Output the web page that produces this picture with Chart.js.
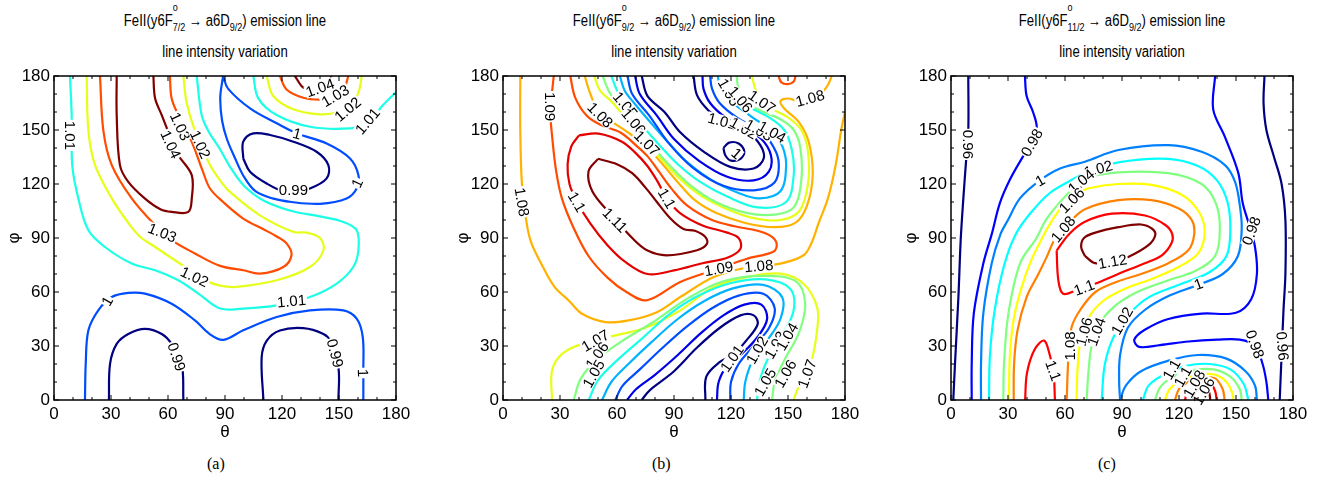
<!DOCTYPE html>
<html>
<head>
<meta charset="utf-8">
<script src="https://cdn.jsdelivr.net/npm/chart.js@4.4.1/dist/chart.umd.min.js"></script>
<style>
  body { margin: 0; background: #fff; width: 1318px; height: 482px; position: relative; overflow: hidden;
         font-family: "Liberation Sans Narrow", "Liberation Sans", Arial, sans-serif; }
  canvas { position: absolute; top: 60px; }
  .title { position: absolute; width: 420px; text-align: center; font-size: 16px; color: #000; transform: scaleX(0.82); transform-origin: 50% 50%; }
  .t1 { top: 10px; line-height: 22px; }
  .t2 { top: 42px; line-height: 20px; }
  .ss { position: relative; display: inline-block; }
  .ss .up { position: absolute; left: 0; top: -8px; font-size: 11px; line-height: 11px; }
  .dn { display: inline-block; font-size: 11px; line-height: 11px; transform: translateY(5px); }
  .cap { position: absolute; top: 455px; font-family: "Liberation Serif", "Times New Roman", serif; font-size: 16px; }
</style>
</head>
<body>
<div class="title t1" style="left:15px">FeII(y6F<span class="ss"><span class="up">o</span><span class="dn">7/2</span></span> &rarr; a6D<span class="dn">9/2</span>) emission line</div>
<div class="title t2" style="left:15px">line intensity variation</div>
<div class="title t1" style="left:464px">FeII(y6F<span class="ss"><span class="up">o</span><span class="dn">9/2</span></span> &rarr; a6D<span class="dn">9/2</span>) emission line</div>
<div class="title t2" style="left:464px">line intensity variation</div>
<div class="title t1" style="left:912px">FeII(y6F<span class="ss"><span class="up">o</span><span class="dn">11/2</span></span> &rarr; a6D<span class="dn">9/2</span>) emission line</div>
<div class="title t2" style="left:912px">line intensity variation</div>
<div class="cap" style="left:207px">(a)</div>
<div class="cap" style="left:652px">(b)</div>
<div class="cap" style="left:1098px">(c)</div>

<canvas id="chartA" width="416" height="385" style="left:0px"></canvas>
<canvas id="chartB" width="416" height="385" style="left:449px"></canvas>
<canvas id="chartC" width="416" height="385" style="left:897px"></canvas>

<script>
// axis ticks (degrees)
const thetaTicks = [0, 30, 60, 90, 120, 150, 180];
const phiTicks = [0, 30, 60, 90, 120, 150, 180];

// ---- panel (a): contour paths as [theta, phi] ----
const a099 = [
  [[99.6,134.2],[99.6,143.5],[104.9,148.1],[113.7,147.2],[126,143.5],[138.2,137.9],[144.4,130.5],[143.5,123.1],[134.7,117.5],[127.7,116.6],[120.7,116],[111.9,120.3],[103.2,126.8],[99.6,134.2]],
  [[28.9,0],[29.5,20.1],[33,31.2],[39.1,36.7],[47.9,39.5],[56.7,36.7],[61.9,31.2],[67.2,20.1],[68.1,0]],
  [[110.2,0],[109.3,23.8],[112,33],[118.9,38.6],[131.2,39.9],[141.8,36.7],[145.3,33],[149.7,18.2],[149.7,0]]
];
const a100 = [
  [[89,180],[87.5,168],[88.5,155],[91,145],[95,135],[100,124],[106,116],[115,112],[125,110],[140,109],[154,112],[159.3,117.5],[160.2,125],[155.8,134.2],[143.5,142.5],[128,148],[117.2,153.7],[103.2,162],[91.6,173],[89,180]],
  [[16.3,0],[16.7,20.1],[18.1,38.7],[23.3,49.8],[30.4,57.2],[39.1,59.5],[47.9,59.1],[61.9,53.5],[74.2,44.2],[82.1,36.5],[89.1,33.4],[99.6,38.7],[117.2,46.1],[134.7,49.8],[152.3,49.8],[159.3,45.2],[162.5,35],[162.8,16.4],[162.8,0]]
];
const a101 = [
  [[8.4,180],[9.3,158.3],[9.6,130.5],[12.8,112],[18.1,94.3],[26.8,85],[40.9,75.8],[53.2,72.1],[65.4,66.5],[76,59.1],[87.4,50.8],[99.6,50.8],[117.2,52.6],[134.7,57.2],[148.8,64.7],[157.5,73.9],[160.2,83.2],[159.3,94.3],[152,99],[140,102],[125,105],[110,111],[100,119],[93,129],[87,140],[81.2,149.5],[77.7,158.3],[75.1,180]],
  [[104.9,180],[107.5,167.6],[117.2,158.3],[134.7,151.8],[155.8,150.9],[164.6,153.7],[173.3,164],[180,171]]
];
const a102 = [
  [[17.2,180],[18.1,149.5],[21.6,130.5],[30.4,112],[38,100],[45,91],[53.2,85],[69,73.9],[79.5,66.5],[87.4,63.5],[96.1,62.8],[117.2,66.5],[134.7,73.9],[141.8,83.2],[140,90],[133,93],[126,93.4],[108.4,102.6],[92.6,115.6],[87.4,122],[82.1,130.5],[74.2,149.5],[69.8,165.1],[68.1,180]],
  [[111.9,180],[115.4,168.9],[125.9,161.5],[140,158.7],[150,160],[155.8,163.3],[160.2,170.8],[162,180]]
];
const a103 = [
  [[24.2,180],[26,149.5],[30.4,130.5],[40.9,112],[53.2,97.1],[61.9,88.8],[74.2,81.4],[87.4,74.5],[99.6,72.1],[108.4,70.2],[120.7,73.9],[125,80.4],[122.5,86.9],[117,91],[110,95],[99.6,100.8],[89,110],[82.1,117.5],[78,128],[72.5,143.5],[65.4,158.3],[61.9,167.6],[61,180]],
  [[118.9,180],[122.4,172.5],[131.2,167.9],[140,166.9],[148,168],[152.3,171.6],[154.9,180]]
];
const a104 = [
  [[33,180],[33,158.3],[34.7,130.5],[39.1,121.2],[47.9,111.9],[56,106],[61.9,104.5],[70.7,104.5],[72.5,111.9],[72.5,124.9],[65.4,136],[61.9,144.4],[56.7,158.3],[53.2,167.6],[52.3,180]],
  [[126.8,180],[131.2,173.5],[137,172],[143,173.5],[145.5,177],[146,180]]
];
const labelsA = [
  ['1.01', 8.6, 147, 90], ['1.04', 61.5, 142, 65], ['1.03', 66.5, 152, 65], ['1.02', 77, 142, 65],
  ['1.03', 57, 93, 22], ['1.02', 74, 68.5, 25], ['1', 28, 55, -60], ['0.99', 64.6, 24, 72],
  ['1.01', 125, 55, -5], ['0.99', 148, 26, 75], ['1', 162.6, 15, 88],
  ['1.04', 140, 173.5, -20], ['1.03', 148, 169, -30], ['1.02', 154.5, 161.5, -40], ['1.01', 165, 155, -50],
  ['1', 128, 148, 15], ['0.99', 126, 116.5, 0], ['1', 159.5, 120.5, -65]
];

// ---- panel (b) ----
const b100 = [[[116,140],[119,143],[124,142.5],[127,138],[125,134],[120,133],[117,136],[116,140]]];
const b101 = [
  [[73,180],[76,169],[85,160],[93,149],[105.6,138],[119.6,129.5],[131.9,128.6],[137.2,134.2],[135.4,141.6],[128.4,149],[115.3,155],[108,161],[102.1,169.4],[100.3,180]],
  [[73,0],[76,4],[79,7],[90,16],[102,29],[114,40],[125,47],[132,47],[134,42],[128,33],[121,25],[114,21],[107,13],[106.5,0]]
];
const b102 = [
  [[69.5,180],[72,170],[81,158],[90,145],[103,133],[118,124],[132,122],[140,127],[141,136],[136,145],[126.7,151],[117,157],[109,165],[105.5,173],[105,180]],
  [[65.3,0],[70,6],[80,14],[92,25],[104,37],[116,47],[127,53],[136,53],[139,45],[134,35],[126,26],[118,19],[113.5,10],[112.6,0]]
];
const b103 = [
  [[65.5,180],[68,170],[77,158],[87,143],[100,129],[116,119],[132,116.5],[143,121],[145,133],[141,143],[134.6,150],[123,157],[114,165],[110,173],[109,180]],
  [[59.1,0],[63,8],[72,17],[84,29],[97,41],[110,51],[124,58],[137,59],[143,51],[140,40],[132,30],[124,20],[120,10],[119.6,0]]
];
const b104 = [
  [[61.5,180],[64,172],[69,165],[77,155],[87,143],[97,132],[110,122],[124,115],[135,112],[146,116],[149,130],[147,141],[141.6,149],[130,158],[120,166],[114.5,174],[113,180]],
  [[52.1,0],[57,10],[66,20],[78,32],[92,45],[106,55],[121,62],[137,64],[147,57],[146,45],[139,33],[131,21],[127.5,10],[126.7,0]]
];
const b105 = [
  [[57,180],[60,172],[64.4,164],[72,154],[82,142],[92,131],[104,121],[118,113],[134,107],[149,110],[153,125],[152,139],[148,150],[140,157],[129,163],[121,169],[118,174],[117,180]],
  [[45.1,0],[50,11],[60,22],[73,34],[88,48],[103,58],[120,65],[138,67],[151,62],[153,50],[147,36],[139,22],[135,10],[133.7,0]]
];
const b106 = [
  [[52.5,180],[56,171],[62,163],[68.8,154.6],[78,142],[88,130],[99,119],[112,110],[128,104],[143,103],[153,107],[157,122],[156.5,140],[153,150],[146,156],[135,161],[127,166],[124,172],[123,180]],
  [[37.2,0],[41,12],[50,23],[63,33],[80,44],[98,57],[116,66],[137,69],[154,66],[159,54],[156,38],[148,22],[143,10],[141.6,0]]
];
const b107 = [
  [[48,180],[51,172],[57,166],[65,156],[75.8,142.7],[84,133],[94,122],[105,113],[118,106],[132,101],[146,100],[156,105],[160.5,120],[160.5,138],[157,150],[150,157],[141,162],[136.3,165.7],[133,172],[131,180]],
  [[25.8,0],[25.8,16.4],[31.1,25.6],[41.6,31.2],[62.6,36.7],[76,40.5],[93.3,49.8],[110.9,62.8],[128.4,68.3],[146,70.2],[158.2,64.6],[165.3,51.6],[165.3,38.6],[161.8,20],[154.7,5.2],[153,0]]
];
const b108 = [
  [[9.1,180],[9.1,149.5],[10,119.6],[12.6,97.3],[15,87],[20,76],[27,63],[34.6,55.3],[41.6,47.9],[53.9,43.3],[66.1,44.2],[81,48.8],[93.3,57.2],[110.9,68.3],[128.4,73.6],[146,75.8],[158.2,80.4],[162.6,87.8],[166,98],[171,112],[175,130],[178,150],[180,160]],
  [[43,180],[46,170],[51.2,158.3],[58,154],[66,148.5],[76,140],[84,131],[92,121],[101,111],[112,104],[127,98.5],[143,96],[154,98.5],[160,108],[163,125],[161,143],[156,154],[148,162],[146,166],[150,167.5],[156,166],[161.6,167.7],[167,170],[171,175],[173,180]]
];
const b109 = [
  [[26.7,180],[25,160],[26,145],[28,127],[31,112],[37,96],[45,80],[55,68],[65,60],[75.8,55.4],[93.3,65.6],[113.5,73],[128.4,78.5],[142.5,82.5],[144,87],[141,91],[134,94],[122,96.5],[110,100],[97,108],[89,117],[82,127],[76,135.5],[70,141.5],[62,148.5],[51,153],[44,158],[38,168],[35.4,180]],
  [[145,180],[146.5,176.5],[150,175.5],[153,177],[154,180]]
];
const b110 = [
  [[40,147],[50.3,148],[62.6,143.5],[70,137],[76,130],[81,122],[86.3,112],[93,104],[105,97],[118,93],[124,90],[125,84],[118,79],[105,76],[90,72],[76,70],[64,77],[55,86],[46,98],[39,110],[35,120],[34,131],[36,141],[40,147]]
];
const b111 = [
  [[50,134],[60,131],[68,126],[75,118],[81,110],[88,101],[95,95],[101,94],[106.5,90.6],[107.4,86.9],[102.1,83.2],[86,80.4],[75.8,83.2],[68,90],[56,104],[47,116],[45,127],[50,134]]
];
const labelsB = [
  ['1.09', 25, 163, 90], ['1.08', 10, 110, 80], ['1.1', 38.9, 110, 60], ['1.11', 59, 100, 45],
  ['1.08', 51.2, 158.3, 45], ['1.05', 64.4, 164, 50], ['1.06', 68.8, 154.6, 50], ['1.07', 75.8, 142.7, 45],
  ['1.05', 119, 171, 60], ['1.06', 125, 167, 50], ['1.07', 136.3, 165.7, 35], ['1.08', 161.6, 167.7, -15],
  ['1.01', 115.3, 155, 15], ['1.02', 126.7, 151, 30], ['1.03', 134.6, 150, 30], ['1.04', 141.6, 149, 30],
  ['1', 123, 137, 40], ['1.1', 86.3, 112, 60], ['1.09', 113.5, 73, -10], ['1.08', 134.6, 74.5, -5],
  ['1.07', 48.6, 33, -30], ['1.06', 49.5, 24.8, -55], ['1.05', 47.7, 14.6, -60],
  ['1.01', 120.5, 23.1, -55], ['1.02', 133.7, 27.7, -60], ['1.03', 143.3, 30.5, -60], ['1.04', 149.5, 35.2, -60],
  ['1.05', 138, 9.9, -60], ['1.06', 148.6, 14.6, -60], ['1.07', 160, 14.6, -70]
];

// ---- panel (c) ----
const c096 = [
  [[9.1,180],[9.1,149.5],[7.9,132.4],[6.5,112],[5.1,88.8],[3.9,57.2],[2.1,20.1],[1.2,0]],
  [[165,180],[164.5,165],[166,150],[170,135],[174,120],[176,100],[176,70],[175,50],[174,25],[173,0]]
];
const c098 = [
  [[38.9,180],[39.8,168.9],[43.3,159.6],[45.1,151.3],[42.5,142.9],[38.1,135.6],[31.1,122.6],[25.8,109.6],[21.4,92],[17,75.8],[12,48],[10.9,20.1],[10.9,0]],
  [[139,180],[138,161.5],[144,146.6],[151.2,126.2],[153.5,109.6],[157,97],[160,85],[161,70],[158,56],[150,48.5],[132,48],[114.4,45],[102,39],[96.5,33.5],[99,29.5],[110,30.5],[125,32.5],[140,33.5],[152,33.5],[160,30],[164,20],[166,10],[167,0]]
];
const c100 = [
  [[15.8,0],[15.8,20],[17,48],[21.4,75.8],[26,92],[30,100],[36.3,112],[46.8,122],[57.4,128.6],[70.5,132.4],[88.1,138.9],[114.4,141.6],[131.9,137.9],[144.2,130.5],[149.5,121.2],[152,108.2],[153,95],[151,80],[143,70],[130.2,64],[115,58],[102,50],[93,40],[89,25],[88.5,10],[89,0]],
  [[89,0],[92,8],[100,16],[115,22],[130,25],[145,23],[155,16],[160,8],[161,0]]
];
const c102 = [
  [[20,0],[20.5,25],[23,50],[28,75],[34,92],[42,104],[52,115],[63,122],[70.5,126],[88,132],[114,134],[130,130],[140,122],[145.5,110],[147,95],[145,80],[136,71],[120,64],[104,57],[94,48],[86,36],[81,20],[79.3,0]],
  [[101,0],[104,8],[112,14],[124,19],[136,20],[147,17],[154,9],[156.5,0]]
];
const c104 = [
  [[27.5,0],[27.9,20.1],[30.2,48],[36.3,75.8],[45,90],[50.4,100.8],[59.1,112],[67.9,121.2],[70.5,123.5],[88.1,126.5],[114.4,126],[131.9,120],[139.5,109],[141.5,94.3],[139,80],[129,72],[113,66],[98,60],[86,52],[78,42],[74,30],[72.3,15],[71.4,0]],
  [[107.4,0],[110,7],[117,13],[127,16.5],[138,17],[147,13],[152,6],[153,0]]
];
const c106 = [
  [[30.5,0],[31,25],[33,45],[37,62],[42,77],[48,90],[54,101],[59.1,108.2],[66.1,114.5],[72,117.5],[88.1,120],[105.6,119.5],[121.4,114],[130.2,105],[133.5,94.3],[130.5,82],[120,74],[105,67],[92,62],[80,55],[72,45],[68,32],[66.5,15],[66.1,0]],
  [[112.6,0],[115,6],[121,11],[130,14],[139,14],[145,10],[148,4],[148.6,0]]
];
const c108 = [
  [[33,0],[33.2,20],[35,38.7],[39.8,57.2],[46,70],[50.4,79.5],[55,90],[62.6,99],[70.5,106],[88.1,111],[105.6,111],[119.6,106.5],[126.7,100],[128,92],[124.9,83.2],[114.4,76],[100,70],[88.1,66],[76,60],[68,50],[63.5,40.5],[61.8,23.8],[60.9,0]],
  [[117.9,0],[120,6],[125,10],[132,12.5],[139,12],[143,6],[144,0]]
];
const c110 = [
  [[55.6,83],[56.5,66.5],[59,59],[66,61],[75.8,64.6],[88,70],[102,76],[111,80.4],[116,86.9],[116.5,92],[113,97.1],[102.1,102.5],[84.6,103.5],[70.5,99],[62,92],[55.6,83]],
  [[39,0],[40,15],[44,28],[49,33],[52,25],[54,15],[54.7,0]],
  [[123.2,0],[124.9,7],[130.2,10.7],[136,10],[139,5],[139.8,0]]
];
const c112 = [
  [[70.5,80],[75.8,76],[85,77],[93.3,79.5],[103.9,86],[107.5,91.5],[106,95],[100,97.5],[88.1,96],[76,93],[70,90],[68.5,85],[70.5,80]],
  [[127,0],[128.5,4],[132,6.5],[135.5,5],[136.5,0]]
];
const labelsC = [
  ['0.96', 9, 142, 90], ['0.98', 42.5, 143, -60], ['1', 46.8, 122, -30], ['1.02', 77.5, 128.5, -15],
  ['1.04', 68.5, 121.5, -40], ['1.06', 63.5, 111, -45], ['1.08', 59, 95, -50],
  ['1.1', 70, 62.5, -20], ['1.12', 85, 77, -10], ['1.1', 53.9, 16.4, 70],
  ['1.08', 62.3, 30, -90], ['1.06', 70, 38, -75], ['1.04', 76.5, 38, -70], ['1.02', 90, 44, -60],
  ['1', 130.2, 64.5, -20], ['0.98', 158, 94, -70], ['0.98', 160, 31, 70], ['0.96', 174.5, 30, 85],
  ['1.1', 116, 17, -60], ['1.1', 122, 13, -60], ['1.08', 128, 9, -60], ['1.06', 133, 5, -60]
];

// jet colour map
function jet(t) {
  t = Math.min(1, Math.max(0, t));
  const c = v => Math.round(255 * Math.min(1, Math.max(0, 1.5 - Math.abs(v))));
  return 'rgb(' + c(4 * t - 3) + ',' + c(4 * t - 2) + ',' + c(4 * t - 1) + ')';
}

function buildSets(groups, lo, hi) {
  const sets = [];
  groups.forEach(([level, paths]) => {
    paths.forEach(p => {
      sets.push({
        data: p.map(([x, y]) => ({ x: x, y: y })),
        showLine: true,
        borderColor: jet((level - lo) / (hi - lo)),
        borderWidth: 2.2,
        pointRadius: 0,
        tension: 0.35,
        fill: false
      });
    });
  });
  return sets;
}

const FONT = '"Liberation Sans Narrow", "Liberation Sans", Arial, sans-serif';

const frame = {
  id: 'frame',
  afterDraw(chart) {
    const { ctx, chartArea: a, scales: { x, y } } = chart;
    ctx.save();
    ctx.strokeStyle = '#000';
    ctx.lineWidth = 1.5;
    ctx.strokeRect(a.left, a.top, a.right - a.left, a.bottom - a.top);
    ctx.lineWidth = 1;
    for (let v = 0; v <= 180; v += 10) {
      const len = v % 30 === 0 ? 5 : 3;
      const px = x.getPixelForValue(v), py = y.getPixelForValue(v);
      ctx.beginPath();
      ctx.moveTo(px, a.bottom); ctx.lineTo(px, a.bottom - len);
      ctx.moveTo(px, a.top); ctx.lineTo(px, a.top + len);
      ctx.moveTo(a.left, py); ctx.lineTo(a.left + len, py);
      ctx.moveTo(a.right, py); ctx.lineTo(a.right - len, py);
      ctx.stroke();
    }
    ctx.restore();
  }
};

const inlineLabels = {
  id: 'inlineLabels',
  afterDatasetsDraw(chart, args, opts) {
    const { ctx, scales: { x, y } } = chart;
    ctx.save();
    ctx.font = '15px ' + FONT;
    ctx.textAlign = 'center';
    ctx.textBaseline = 'middle';
    opts.items.forEach(([txt, tx, ty, rot]) => {
      const px = x.getPixelForValue(tx), py = y.getPixelForValue(ty);
      const w = ctx.measureText(txt).width;
      ctx.save();
      ctx.translate(px, py);
      ctx.rotate(rot * Math.PI / 180);
      ctx.fillStyle = '#fff';
      ctx.fillRect(-w / 2 - 1, -6, w + 2, 12);
      ctx.fillStyle = '#000';
      ctx.fillText(txt, 0, 1);
      ctx.restore();
    });
    ctx.restore();
  }
};

function makeChart(id, groups, lo, hi, labels) {
  const ctx = document.getElementById(id).getContext('2d');
  return new Chart(ctx, {
    type: 'scatter',
    data: { datasets: buildSets(groups, lo, hi) },
    options: {
      responsive: false,
      animation: false,
      devicePixelRatio: 1,
      layout: { padding: { top: 16, right: 20, left: 0, bottom: 0 } },
      plugins: {
        legend: { display: false },
        tooltip: { enabled: false },
        inlineLabels: { items: labels }
      },
      scales: {
        x: {
          type: 'linear', min: 0, max: 180,
          afterBuildTicks: s => { s.ticks = thetaTicks.map(v => ({ value: v })); },
          afterFit: s => { s.height = 45; },
          grid: { display: false, drawTicks: false },
          border: { display: false },
          ticks: { autoSkip: false, maxRotation: 0, padding: 4, color: '#000', font: { family: FONT, size: 17 } },
          title: { display: true, text: 'θ', color: '#000', padding: { top: 0, bottom: 2 }, font: { family: FONT, size: 17 } }
        },
        y: {
          type: 'linear', min: 0, max: 180,
          afterBuildTicks: s => { s.ticks = phiTicks.map(v => ({ value: v })); },
          afterFit: s => { s.width = 54; },
          grid: { display: false, drawTicks: false },
          border: { display: false },
          ticks: { autoSkip: false, padding: 4, color: '#000', font: { family: FONT, size: 17 } },
          title: { display: true, text: 'φ', color: '#000', padding: { top: 4, bottom: 0 }, font: { family: FONT, size: 17 } }
        }
      }
    },
    plugins: [frame, inlineLabels]
  });
}

makeChart('chartA', [[0.99, a099], [1, a100], [1.01, a101], [1.02, a102], [1.03, a103], [1.04, a104]], 0.99, 1.04, labelsA);
makeChart('chartB', [[1.0, b100], [1.01, b101], [1.02, b102], [1.03, b103], [1.04, b104], [1.05, b105], [1.06, b106],
  [1.07, b107], [1.08, b108], [1.09, b109], [1.1, b110], [1.11, b111]], 1.01, 1.11, labelsB);
makeChart('chartC', [[0.96, c096], [0.98, c098], [1, c100], [1.02, c102], [1.04, c104], [1.06, c106], [1.08, c108],
  [1.1, c110], [1.12, c112]], 0.96, 1.12, labelsC);
</script>
</body>
</html>
